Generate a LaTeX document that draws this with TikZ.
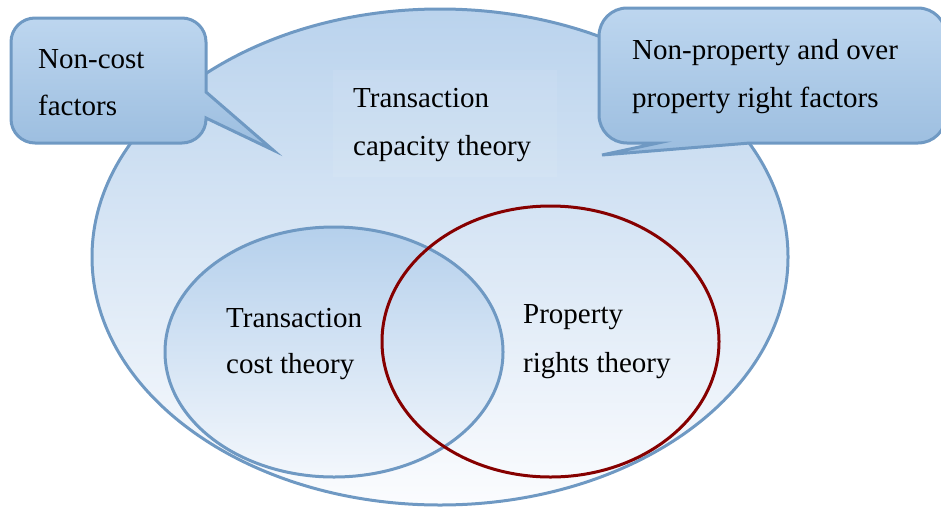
\documentclass[tikz,border=0pt]{standalone}
\usepackage{fontspec}
\setmainfont{Liberation Serif}
\definecolor{edgeblue}{HTML}{6F99C3}
\definecolor{skytop}{HTML}{BAD3ED}
\definecolor{skybot}{HTML}{FBFCFE}
\definecolor{calltop}{HTML}{BDD6EF}
\definecolor{callbot}{HTML}{9BBDDF}
\definecolor{innertop}{HTML}{B5D0EC}
\definecolor{innerbot}{HTML}{F3F7FC}
\definecolor{propred}{HTML}{860000}
\tikzset{
  outline/.style={draw=edgeblue, line width=3pt},
  callout/.style={outline, top color=calltop, bottom color=callbot},
  lbl/.style={font=\fontsize{29}{35}\selectfont, inner sep=0pt, anchor=base west, text=black},
}
\begin{document}
\begin{tikzpicture}[x=1pt, y=-1pt]
\useasboundingbox (0,0) rectangle (941,509);
\clip (0,0) rectangle (941,509);

% outer field: transaction capacity
\path[outline, top color=skytop, bottom color=skybot]
  (440,257) ellipse [x radius=348, y radius=248];

% faint text box behind the central label
\fill[white, opacity=0.07] (333,70) rectangle (557,177);

% left callout
\path[callout]
  (206,118) [rounded corners=24] -- (206,143) -- (11,143) -- (11,18) -- (206,18)
  [sharp corners] -- (206,92) -- (273,150) -- cycle;

% right callout (runs past the right edge)
\path[callout]
  (658,143) [rounded corners=28] -- (599,143) -- (599,8) -- (946,8) -- (946,143)
  [sharp corners] -- (750,143) -- (602,155) -- cycle;

% inner sets
\path[outline, top color=innertop, bottom color=innerbot]
  (334,352) ellipse [x radius=169, y radius=125];
\draw[propred, line width=3pt]
  (550.5,341.5) ellipse [x radius=168.5, y radius=135.5];

% labels
\node[lbl] (nc1) at (38,68) {Non-cost};
\node[lbl] (nc2) at (38,115) {factors};
\node[lbl] (np1) at (632,59) {Non-property and over};
\node[lbl] (np2) at (632,107) {property right factors};
\node[lbl] (tc1) at (353,107) {Transaction};
\node[lbl] (tc2) at (353,155) {capacity theory};
\node[lbl] (co1) at (226,327) {Transaction};
\node[lbl] (co2) at (226,373) {cost theory};
\node[lbl] (pr1) at (523,323) {Property};
\node[lbl] (pr2) at (523,372) {rights theory};
\end{tikzpicture}
\end{document}
